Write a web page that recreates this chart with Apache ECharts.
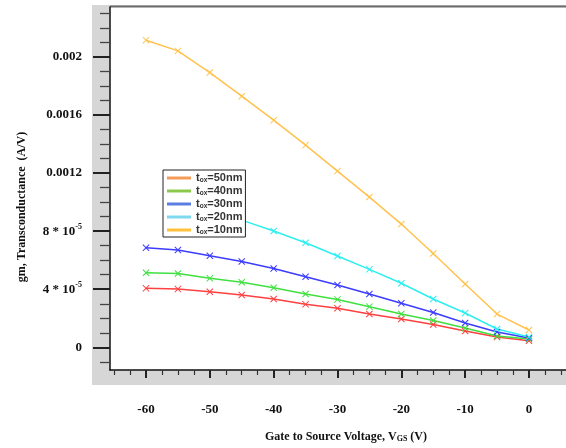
<!DOCTYPE html>
<html><head><meta charset="utf-8">
<script src="https://cdn.jsdelivr.net/npm/echarts@6/dist/echarts.min.js"></script>
<style>html,body{margin:0;padding:0;background:#fff}#c{width:566px;height:448px}</style>
</head><body><div id="c"></div>
<script>
const vgs = [-60, -55, -50, -45, -40, -35, -30, -25, -20, -15, -10, -5, 0];
const gm50 = [0.000406, 0.000401, 0.000383, 0.000360, 0.000333, 0.000296, 0.000269, 0.000229, 0.000195, 0.000157, 0.000112, 0.000071, 0.000045];
const gm40 = [0.000514, 0.000508, 0.000475, 0.000448, 0.000410, 0.000367, 0.000330, 0.000280, 0.000229, 0.000185, 0.000133, 0.000078, 0.000057];
const gm30 = [0.000686, 0.000670, 0.000631, 0.000591, 0.000543, 0.000486, 0.000429, 0.000367, 0.000303, 0.000240, 0.000167, 0.000105, 0.000064];
const gm20 = ['-', '-', '-', 0.000876, 0.000801, 0.000720, 0.000629, 0.000537, 0.000441, 0.000333, 0.000236, 0.000126, 0.000071];
const gm10 = [0.002116, 0.002042, 0.001893, 0.001730, 0.001565, 0.001393, 0.001214, 0.001035, 0.000849, 0.000646, 0.000436, 0.000229, 0.000119];

const seriesNames = ['tox=50nm', 'tox=40nm', 'tox=30nm', 'tox=20nm', 'tox=10nm'];
const seriesData = [gm50, gm40, gm30, gm20, gm10];
const lineColors = ['#ff4040', '#3fe03f', '#3c3cff', '#2eeef0', '#ffc24f'];
const legendColors = ['#f59b58', '#8cc84b', '#5b7fe0', '#80d8f0', '#ffc23a'];

const xMajorTicks = [-60, -50, -40, -30, -20, -10, 0];
const xMinorTicks = [-65, -62.5, -57.5, -55, -52.5, -47.5, -45, -42.5, -37.5, -35, -32.5, -27.5, -25, -22.5, -17.5, -15, -12.5, -7.5, -5, -2.5, 2.5, 5];
const yMajorTicks = [0, 0.0004, 0.0008, 0.0012, 0.0016, 0.002];
const yTickLabels = ['0', '4 * 10{sup|-5}', '8 * 10{sup|-5}', '0.0012', '0.0016', '0.002'];
const yMinorTicks = [-0.0001, 0.0001, 0.0002, 0.0003, 0.0005, 0.0006, 0.0007, 0.0009, 0.0010, 0.0011, 0.0013, 0.0014, 0.0015, 0.0017, 0.0018, 0.0019, 0.0021, 0.0022, 0.0023];

const xName = 'Gate to Source Voltage, V{sub|GS} (V)';
const yName = 'gm, Transconductance  (A/V)';

const crossPath = 'path://M1,0 L5,4 L9,0 L10,1 L6,5 L10,9 L9,10 L5,6 L1,10 L0,9 L4,5 L0,1 Z';
const serifBold = {fontFamily: '"Liberation Serif", "Times New Roman", serif', fontWeight: 'bold', color: '#111'};

const chart = echarts.init(document.getElementById('c'), null, {renderer: 'canvas'});
const X_MIN = -65.64, X_MAX = 5.8, Y_MIN = -0.0001564, Y_MAX = 0.0023445;

const option = {
  animation: false,
  backgroundColor: '#fff',
  grid: {left: 110, right: 0, top: 7, bottom: 78, containLabel: false},
  graphic: [
    {type: 'rect', z: -100, shape: {x: 92, y: 5, width: 474, height: 380}, style: {fill: '#d6d6d6'}},
    {type: 'rect', z: -99, shape: {x: 110, y: 7, width: 456, height: 363}, style: {fill: '#ffffff'}},
    {type: 'line', z: -98, shape: {x1: 110, y1: 6.5, x2: 566, y2: 6.5}, style: {stroke: '#6a6a6a', lineWidth: 2}},
    {type: 'text', x: 346, y: 437, style: {text: xName, font: 'bold 12px "Liberation Serif", serif', fill: '#111', align: 'center', verticalAlign: 'middle',
      rich: {sub: {fontSize: 8, fontWeight: 'bold', fontFamily: '"Liberation Serif", serif', verticalAlign: 'bottom', padding: [4, 0, 0, 0]}}}},
    {type: 'text', x: 22, y: 207, rotation: Math.PI / 2, style: {text: yName, font: 'bold 12px "Liberation Serif", serif', fill: '#111', align: 'center', verticalAlign: 'middle'}}
  ],
  legend: {
    left: 163, top: 170, orient: 'vertical',
    backgroundColor: '#fff', borderColor: '#222', borderWidth: 1, borderRadius: 0,
    padding: [2, 3, 1, 4], itemGap: 1, itemWidth: 24, itemHeight: 3, icon: 'rect',
    data: seriesNames.map((n, i) => ({name: n, itemStyle: {color: legendColors[i]}})),
    formatter: n => n.replace('tox', 't{sub|ox}'),
    textStyle: {fontFamily: '"Liberation Sans", Arial, sans-serif', fontWeight: 'bold', fontSize: 11, color: '#333', lineHeight: 12,
      rich: {sub: {fontSize: 6.5, fontWeight: 'bold', fontFamily: '"Liberation Sans", Arial, sans-serif', color: '#333', verticalAlign: 'bottom', lineHeight: 8, padding: [3, 0, 0, 0]}}}
  },
  xAxis: [
    {type: 'value', min: X_MIN, max: X_MAX, position: 'bottom',
      axisLine: {show: true, onZero: false, lineStyle: {color: '#111', width: 1.5}},
      axisTick: {show: true, customValues: xMajorTicks, length: 8, inside: false, lineStyle: {color: '#222', width: 2}},
      axisLabel: {show: true, customValues: xMajorTicks, margin: 33, fontSize: 13, ...serifBold},
      splitLine: {show: false}},
    {type: 'value', min: X_MIN, max: X_MAX, position: 'bottom', offset: 0,
      axisLine: {show: false, onZero: false},
      axisTick: {show: true, customValues: xMinorTicks, length: 5, lineStyle: {color: '#333', width: 1.2}},
      axisLabel: {show: false}, splitLine: {show: false}}
  ],
  yAxis: [
    {type: 'value', min: Y_MIN, max: Y_MAX, position: 'left',
      axisLine: {show: true, onZero: false, lineStyle: {color: '#111', width: 1.5}},
      axisTick: {show: true, customValues: yMajorTicks, length: 17, lineStyle: {color: '#222', width: 2}},
      axisLabel: {show: true, customValues: yMajorTicks, margin: 28, fontSize: 13, lineHeight: 16, ...serifBold,
        formatter: v => { const i = yMajorTicks.findIndex(t => Math.abs(t - v) < 1e-9); return i >= 0 ? yTickLabels[i] : ''; },
        rich: {sup: {fontSize: 8, fontWeight: 'bold', fontFamily: '"Liberation Serif", serif', color: '#111', verticalAlign: 'top', lineHeight: 8}}},
      splitLine: {show: false}},
    {type: 'value', min: Y_MIN, max: Y_MAX, position: 'left', offset: 0,
      axisLine: {show: false, onZero: false},
      axisTick: {show: true, customValues: yMinorTicks, length: 10, lineStyle: {color: '#444', width: 1.3}},
      axisLabel: {show: false}, splitLine: {show: false}}
  ],
  series: seriesNames.map((n, i) => ({
    name: n, type: 'line', xAxisIndex: 0, yAxisIndex: 0,
    data: vgs.map((x, j) => [x, seriesData[i][j]]),
    symbol: crossPath, symbolSize: 7, showSymbol: true,
    itemStyle: {color: lineColors[i]},
    lineStyle: {color: lineColors[i], width: 1.5},
    emphasis: {disabled: true}
  }))
};
chart.setOption(option);
</script></body></html>
